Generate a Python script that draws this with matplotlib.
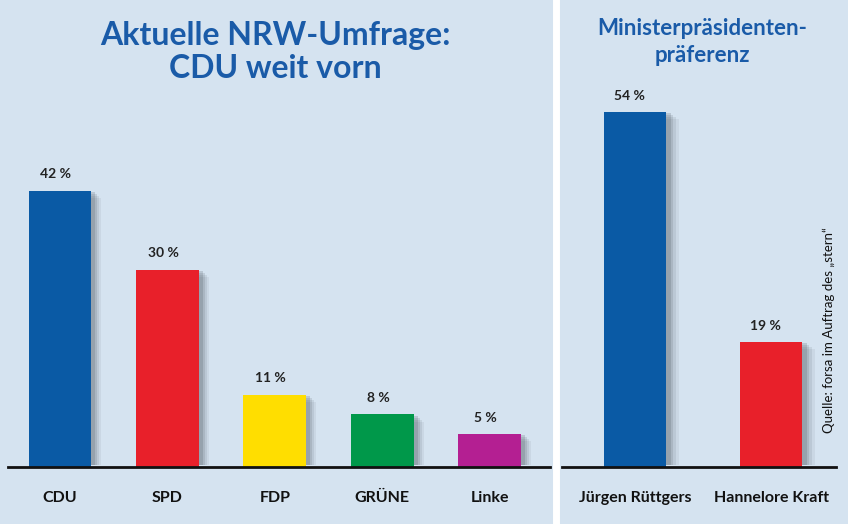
import matplotlib.pyplot as plt

parties = ["CDU", "SPD", "FDP", "GRÜNE", "Linke"]
party_values = [42, 30, 11, 8, 5]
party_colors = ["#0a5aa5", "#e8202a", "#ffde00", "#00984a", "#b41f92"]

candidates = ["Jürgen Rüttgers", "Hannelore Kraft"]
candidate_values = [54, 19]
candidate_colors = ["#0a5aa5", "#e8202a"]

plt.rcParams['font.family'] = ['Lato', 'DejaVu Sans']
bg = '#d5e3f0'
title_color = '#1a5ba8'

fig = plt.figure(figsize=(8.48, 5.24), dpi=100)
fig.patch.set_facecolor(bg)

# white divider between the two panels
fig.add_artist(plt.Line2D([556/848, 556/848], [0, 1], color='white', lw=5))

bottom = (524 - 467) / 524
height = 460 / 524

# Left panel: party poll
ax = fig.add_axes([8/848, bottom, 542/848, height])
ax_r = fig.add_axes([562/848, bottom, 274/848, height])


def draw_bars(ax, names, values, colors, width):
    pos = range(len(names))
    # soft shadow
    for k, a in enumerate([0.08, 0.11, 0.15, 0.2]):
        off = 0.035 + 0.014 * (3 - k)
        ax.bar([p + off for p in pos], [v - 0.5 - 0.3 * (3 - k) for v in values],
               width=width + 0.01 * (3 - k), bottom=0.3, color='#4a525c', alpha=a, lw=0, zorder=1)
    ax.bar(pos, values, width=width, color=colors, zorder=2)
    for p, v in zip(pos, values):
        ax.text(p - 0.04, v + 1.6, f"{v} %", ha='center', va='bottom', fontsize=10,
                fontweight='bold', color='#222222')
    ax.set_xticks(list(pos))
    ax.set_xticklabels(names, fontsize=11.5, fontweight='bold', color='#111111')
    ax.tick_params(axis='x', length=0, pad=17)
    ax.set_yticks([])
    ax.set_ylim(0, 70)
    ax.set_facecolor('none')
    for s in ['top', 'left', 'right']:
        ax.spines[s].set_visible(False)
    ax.spines['bottom'].set_linewidth(2)
    ax.spines['bottom'].set_color('#111111')


draw_bars(ax, parties, party_values, party_colors, 0.586)
ax.set_xlim(-0.484, 4.56)

draw_bars(ax_r, candidates, candidate_values, candidate_colors, 0.456)
ax_r.set_xlim(-0.537, 1.478)

fig.text(275/848, 1 - 52/524, "Aktuelle NRW-Umfrage:\nCDU weit vorn", ha='center', va='center',
         fontsize=23, fontweight='bold', color=title_color, linespacing=1.2)
fig.text(702/848, 1 - 42/524, "Ministerpräsidenten-\npräferenz", ha='center', va='center',
         fontsize=16, fontweight='bold', color=title_color, linespacing=1.3)
fig.text(829/848, 1 - 330/524, "Quelle: forsa im Auftrag des „stern“", rotation=90,
         ha='center', va='center', fontsize=9.5, color='#111111')

fig.savefig('out.png', dpi=100, facecolor=bg)
